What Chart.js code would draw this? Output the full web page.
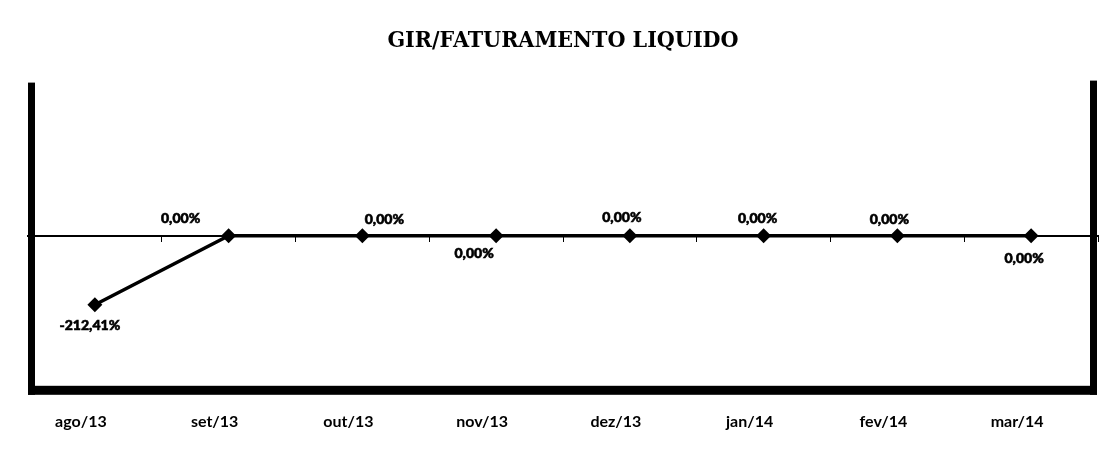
<!DOCTYPE html>
<html><head><meta charset="utf-8">
<script src="https://cdn.jsdelivr.net/npm/chart.js@4/dist/chart.umd.min.js"></script>
<style>html,body{margin:0;padding:0;background:#fff;} canvas{display:block}</style>
</head><body>
<canvas id="c" width="1113" height="454"></canvas>
<script>
const categories = ['ago/13', 'set/13', 'out/13', 'nov/13', 'dez/13', 'jan/14', 'fev/14', 'mar/14'];
const girFaturamento = [-212.41, 0, 0, 0, 0, 0, 0, 0];
const chartTitle = 'GIR/FATURAMENTO LIQUIDO';

function fmtPct(v) { return v.toFixed(2).replace('.', ',') + '%'; }

const framePlugin = {
  id: 'frame',
  afterDatasetsDraw(chart) {
    const { ctx, chartArea: a } = chart;
    ctx.save();
    ctx.fillStyle = '#000';
    ctx.fillRect(a.left, a.top - 2, 7, a.bottom + 5 - (a.top - 2));
    ctx.fillRect(a.right - 8, a.top - 4, 7, a.bottom + 5 - (a.top - 4));
    ctx.fillRect(a.left, a.bottom - 4, a.right - 1 - a.left, 9);
    ctx.restore();
  }
};

const valueLabelPlugin = {
  id: 'valueLabels',
  afterDatasetsDraw(chart, args, opts) {
    const { ctx } = chart;
    const meta = chart.getDatasetMeta(0);
    const data = chart.data.datasets[0].data;
    ctx.save();
    ctx.font = opts.font;
    ctx.fillStyle = '#000';
    ctx.strokeStyle = '#000';
    ctx.lineWidth = 0.6;
    ctx.textAlign = 'center';
    ctx.textBaseline = 'middle';
    meta.data.forEach((pt, i) => {
      const off = opts.offsets[i] || [0, -16];
      const t = fmtPct(data[i]);
      ctx.fillText(t, pt.x + off[0], pt.y + off[1]);
      ctx.strokeText(t, pt.x + off[0], pt.y + off[1]);
    });
    ctx.restore();
  }
};

new Chart(document.getElementById('c'), {
  type: 'line',
  data: {
    labels: categories,
    datasets: [{
      data: girFaturamento,
      borderColor: '#000',
      backgroundColor: '#000',
      borderWidth: 3.5,
      pointStyle: 'rectRot',
      pointRadius: 5,
      pointBackgroundColor: '#000',
      pointBorderColor: '#000',
      tension: 0,
      fill: false
    }]
  },
  options: {
    responsive: false,
    animation: false,
    events: [],
    layout: { padding: { left: 28, right: 15, top: 0, bottom: 1 } },
    plugins: {
      legend: { display: false },
      tooltip: { enabled: false },
      title: {
        display: true,
        text: chartTitle,
        color: '#000',
        font: { family: "'DejaVu Serif Condensed', 'DejaVu Serif', serif", size: 23, weight: 'bold', lineHeight: 1.2 },
        padding: { top: 27, bottom: 30 }
      },
      valueLabels: {
        font: "900 14px Lato, 'Open Sans', sans-serif",
        offsets: [[-5, 21], [-48, -17], [22, -16], [-22, 18], [-8, -18], [-6, -17], [-8, -16], [-7, 23]]
      }
    },
    scales: {
      y: {
        display: false,
        min: -474,
        max: 465
      },
      x: {
        position: 'bottom',
        offset: true,
        grid: { display: false, drawTicks: false },
        border: { display: false },
        ticks: {
          color: '#000',
          padding: 22,
          labelOffset: -14,
          maxRotation: 0,
          font: { family: "Lato, 'Open Sans', sans-serif", size: 16, weight: 'bold', lineHeight: 1.2 }
        }
      },
      x2: {
        type: 'category',
        position: { y: 0 },
        offset: true,
        afterFit(scale) { scale.height = 0; },
        grid: { offset: true, drawOnChartArea: false, drawTicks: true, tickLength: 5, color: '#000', lineWidth: 1 },
        border: { display: true, color: '#000', width: 2 },
        ticks: { display: false }
      }
    }
  },
  plugins: [framePlugin, valueLabelPlugin]
});
</script>
</body></html>
